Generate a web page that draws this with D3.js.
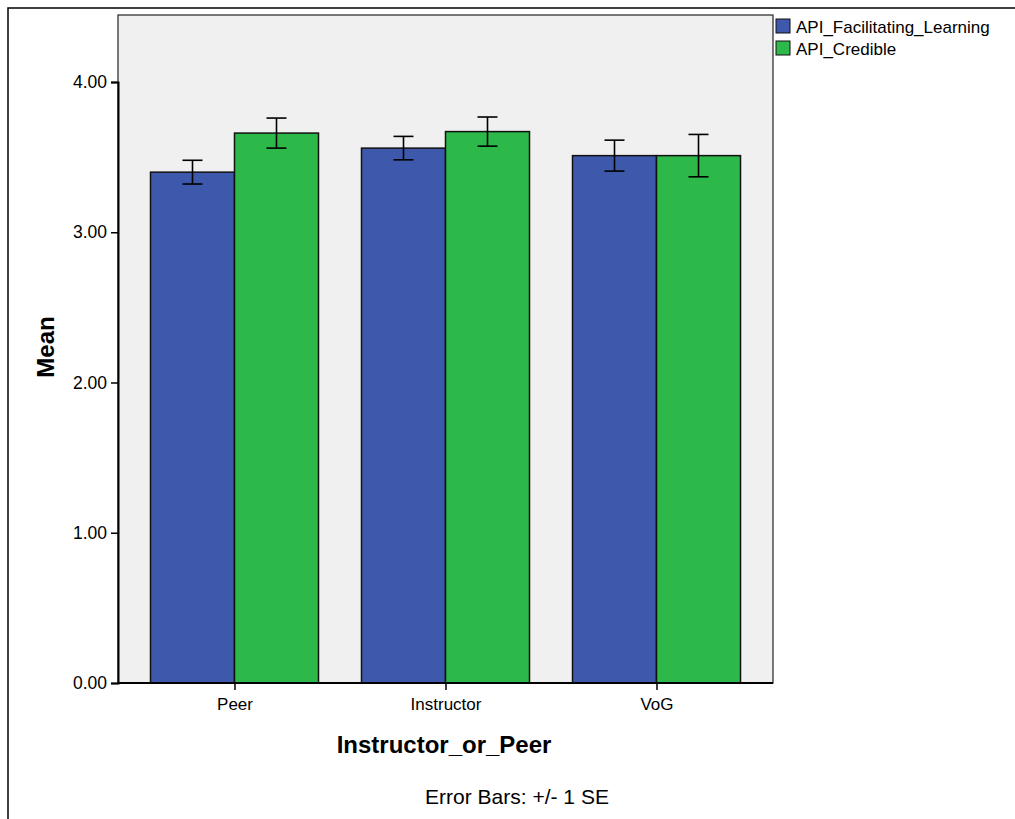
<!DOCTYPE html>
<html>
<head>
<meta charset="utf-8">
<script src="https://cdn.jsdelivr.net/npm/d3@7"></script>
<style>
  html, body { margin: 0; padding: 0; background: #fff; }
  svg { display: block; font-family: "Liberation Sans", Arial, sans-serif; }
</style>
</head>
<body>
<svg id="chart" width="1015" height="819"></svg>
<script>
// Group means with +/- 1 SE, by source of feedback
const categories = ["Peer", "Instructor", "VoG"];
const seriesNames = ["API_Facilitating_Learning", "API_Credible"];
const facilitatingMean = [3.40, 3.56, 3.51];
const facilitatingSE = [0.079, 0.078, 0.103];
const credibleMean = [3.66, 3.67, 3.51];
const credibleSE = [0.100, 0.097, 0.141];
const yTicks = [0, 1, 2, 3, 4];
const seriesColors = ["#3e58ac", "#2db84a"];

const series = [
  { name: seriesNames[0], means: facilitatingMean, se: facilitatingSE, color: seriesColors[0] },
  { name: seriesNames[1], means: credibleMean, se: credibleSE, color: seriesColors[1] }
];

const svg = d3.select("#chart");
const plot = { left: 118, top: 15, right: 773, bottom: 683 };

// outer frame (runs off the right and bottom edges)
svg.append("rect")
  .attr("x", 8).attr("y", 8).attr("width", 1100).attr("height", 900)
  .attr("fill", "none").attr("stroke", "#000").attr("stroke-width", 1.5);

// plot background
svg.append("rect")
  .attr("x", plot.left).attr("y", plot.top)
  .attr("width", plot.right - plot.left).attr("height", plot.bottom - plot.top)
  .attr("fill", "#f0f0f0").attr("stroke", "#222").attr("stroke-width", 1.2);

const y = d3.scaleLinear().domain([0, 4]).range([plot.bottom, 82]);
const x = d3.scaleBand().domain(categories)
  .range([plot.left, plot.right])
  .paddingInner(0.2038).paddingOuter(0.154);
const xs = d3.scaleBand().domain(seriesNames).range([0, x.bandwidth()]);

// bars
series.forEach(s => {
  svg.append("g").selectAll("rect")
    .data(categories)
    .join("rect")
    .attr("x", (c) => x(c) + xs(s.name))
    .attr("y", (c, i) => y(s.means[i]))
    .attr("width", xs.bandwidth())
    .attr("height", (c, i) => y(0) - y(s.means[i]))
    .attr("fill", s.color)
    .attr("stroke", "#111").attr("stroke-width", 1.5);
});

// error bars
series.forEach(s => {
  const g = svg.append("g").attr("stroke", "#000").attr("stroke-width", 1.6).attr("fill", "none");
  categories.forEach((c, i) => {
    const cx = x(c) + xs(s.name) + xs.bandwidth() / 2;
    const hi = y(s.means[i] + s.se[i]);
    const lo = y(s.means[i] - s.se[i]);
    g.append("line").attr("x1", cx).attr("x2", cx).attr("y1", hi).attr("y2", lo);
    g.append("line").attr("x1", cx - 10).attr("x2", cx + 10).attr("y1", hi).attr("y2", hi);
    g.append("line").attr("x1", cx - 10).attr("x2", cx + 10).attr("y1", lo).attr("y2", lo);
  });
});

// y axis
const yAxis = svg.append("g")
  .attr("transform", `translate(${plot.left},0)`)
  .call(d3.axisLeft(y).tickValues(yTicks).tickFormat(d3.format(".2f")).tickSize(7).tickPadding(4));
yAxis.select(".domain").attr("stroke", "#000").attr("stroke-width", 2);
yAxis.selectAll(".tick line").attr("stroke", "#000").attr("stroke-width", 1.5);
yAxis.selectAll(".tick text")
  .attr("font-size", 17.5).attr("fill", "#000")
  .attr("font-family", "Liberation Sans, Arial, sans-serif");

// x axis
const xCenter = d3.scalePoint().domain(categories)
  .range([x(categories[0]) + x.bandwidth() / 2, x(categories[2]) + x.bandwidth() / 2]);
const xAxis = svg.append("g")
  .attr("transform", `translate(0,${plot.bottom})`)
  .call(d3.axisBottom(xCenter).tickSize(7).tickPadding(8).tickSizeOuter(0));
xAxis.select(".domain").attr("d", `M${plot.left},0H${plot.right}`).attr("stroke", "#000").attr("stroke-width", 2);
xAxis.selectAll(".tick line").attr("stroke", "#000").attr("stroke-width", 1.5);
xAxis.selectAll(".tick text")
  .attr("font-size", 17).attr("fill", "#000")
  .attr("font-family", "Liberation Sans, Arial, sans-serif");

// axis titles
svg.append("text")
  .attr("transform", "translate(54,347) rotate(-90)")
  .attr("text-anchor", "middle")
  .attr("font-size", 24).attr("font-weight", "bold")
  .text("Mean");

svg.append("text")
  .attr("x", 444).attr("y", 753)
  .attr("text-anchor", "middle")
  .attr("font-size", 24).attr("font-weight", "bold")
  .text("Instructor_or_Peer");

svg.append("text")
  .attr("x", 517).attr("y", 804)
  .attr("text-anchor", "middle")
  .attr("font-size", 21)
  .text("Error Bars: +/- 1 SE");

// legend
const legend = svg.append("g").attr("transform", "translate(776,19)");
series.forEach((s, i) => {
  const row = legend.append("g").attr("transform", `translate(0,${i * 22})`);
  row.append("rect").attr("x", 0).attr("y", 0).attr("width", 14).attr("height", 14)
    .attr("fill", s.color).attr("stroke", "#111").attr("stroke-width", 1);
  row.append("text").attr("x", 20).attr("y", 14)
    .attr("font-size", 17).text(s.name);
});
</script>
</body>
</html>
